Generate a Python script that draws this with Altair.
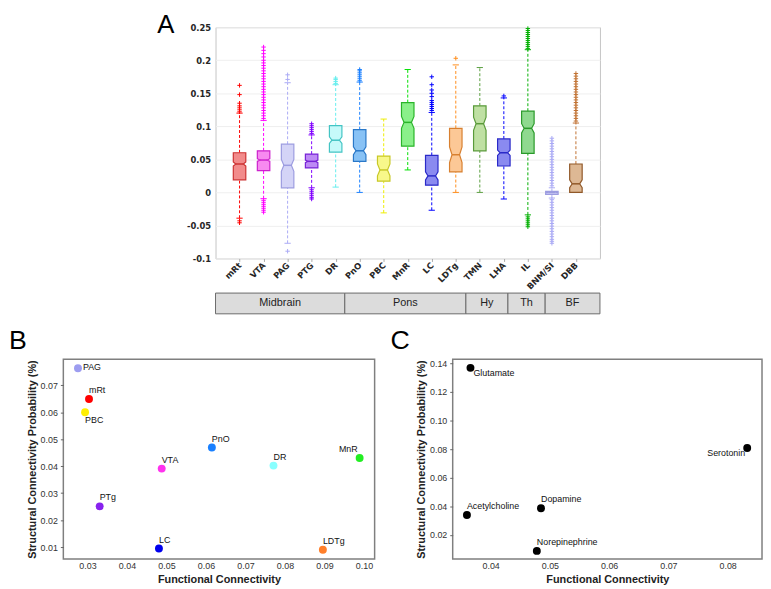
import json
import altair as alt
import pandas as pd

# ---------------- Panel A data ----------------
cats = ["mRt", "VTA", "PAG", "PTG", "DR", "PnO", "PBC", "MnR", "LC", "LDTg",
        "TMN", "LHA", "IL", "BNM/SI", "DBB"]
q1 = [0.019, 0.033, 0.007, 0.037, 0.061, 0.047, 0.017, 0.070, 0.011, 0.031,
      0.063, 0.040, 0.059, -0.003, 0.000]
medians = [0.043, 0.049, 0.041, 0.047, 0.079, 0.063, 0.034, 0.106, 0.025, 0.057,
           0.104, 0.060, 0.097, 0.000, 0.013]
q3 = [0.060, 0.063, 0.073, 0.058, 0.101, 0.095, 0.055, 0.136, 0.056, 0.097,
      0.131, 0.081, 0.123, 0.0015, 0.043]
whisk_lo = [-0.039, -0.0095, -0.077, 0.007, 0.008, 0.000, -0.031, 0.034, -0.027, 0.000,
            0.000, -0.010, -0.034, -0.0085, 0.000]
whisk_hi = [0.120, 0.109, 0.166, 0.087, 0.163, 0.167, 0.111, 0.186, 0.121, 0.193,
            0.189, 0.143, 0.216, 0.007, 0.105]
notch = [0.003, 0.002, 0.009, 0.002, 0.005, 0.006, 0.009, 0.009, 0.006, 0.012,
         0.010, 0.004, 0.007, 0.0005, 0.006]
outliers = {
    "mRt": [0.122, 0.125, 0.128, 0.131, 0.135, 0.148, 0.162, -0.043, -0.046],
    "VTA": [0.112, 0.116, 0.120, 0.124, 0.128, 0.132, 0.136, 0.140, 0.144, 0.148,
            0.152, 0.156, 0.160, 0.164, 0.168, 0.172, 0.176, 0.180, 0.184, 0.188,
            0.192, 0.196, 0.200, 0.205, 0.210, 0.215, 0.220,
            -0.012, -0.015, -0.018, -0.021, -0.024, -0.027, -0.030],
    "PAG": [0.171, 0.178, -0.089],
    "PTG": [0.089, 0.092, 0.095, 0.098, 0.101, 0.104,
            0.004, 0.001, -0.002, -0.005, -0.008, -0.010],
    "DR": [0.165, 0.168, 0.171, 0.173],
    "PnO": [0.169, 0.172, 0.175, 0.178, 0.181, 0.184, 0.186],
    "LC": [0.124, 0.127, 0.130, 0.133, 0.136, 0.139, 0.145, 0.150, 0.155, 0.163, 0.175],
    "LDTg": [0.203],
    "LHA": [0.146],
    "IL": [0.218, 0.221, 0.224, 0.227, 0.230, 0.233, 0.236, 0.239, 0.242, 0.245, 0.248,
           -0.037, -0.040, -0.043, -0.046, -0.049, -0.052],
    "BNM/SI": [0.010, 0.014, 0.018, 0.022, 0.026, 0.030, 0.034, 0.038, 0.042, 0.046,
               0.050, 0.054, 0.058, 0.062, 0.066, 0.070, 0.074, 0.078, 0.082,
               -0.011, -0.015, -0.019, -0.023, -0.027, -0.031, -0.035, -0.039, -0.043,
               -0.047, -0.051, -0.055, -0.059, -0.063, -0.067, -0.071, -0.074, -0.077],
    "DBB": [0.108, 0.112, 0.116, 0.120, 0.124, 0.128, 0.132, 0.136, 0.140, 0.144,
            0.148, 0.152, 0.156, 0.160, 0.164, 0.168, 0.172, 0.176, 0.180],
}
region_names = ["Midbrain", "Pons", "Hy", "Th", "BF"]
region_start = [0.0, 5.38, 10.42, 12.17, 13.72]
region_end = [5.38, 10.42, 12.17, 13.72, 16.0]

# styles for panel A
line_colors = ["#cc3333", "#cc22cc", "#9c9ce0", "#7722d6", "#44c4c4", "#2a78c8",
               "#c8c828", "#2ab42a", "#2a2ac8", "#d88030", "#5a9a3a", "#2a2ac8",
               "#2a9a2a", "#9c9ce0", "#905828"]
fill_colors = ["#f28b8b", "#f78af0", "#d4d4f7", "#bd8af5", "#c6fafa", "#88c2f5",
               "#f8f88a", "#8af08a", "#8a8af0", "#fcc896", "#bfe0a3", "#8a8af0",
               "#8fd98f", "#d0d0f7", "#ddb894"]
whisker_colors = ["#ff0000", "#ff00ff", "#aaaaf5", "#8000ff", "#66eeee", "#1a80ff",
                  "#eeee00", "#00e000", "#0000ff", "#ff8c1a", "#5aa040", "#0000ff",
                  "#00b000", "#aaaaf5", "#c07030"]

# ---------------- Panel B data ----------------
b_names = ["PAG", "mRt", "PBC", "PnO", "VTA", "DR", "MnR", "PTg", "LC", "LDTg"]
b_fc = [0.0276, 0.0304, 0.0294, 0.0615, 0.0488, 0.0771, 0.0989, 0.0331, 0.0481, 0.0896]
b_sc = [0.0763, 0.0649, 0.0600, 0.0469, 0.0391, 0.0402, 0.0430, 0.0251, 0.0095, 0.0090]
b_colors = ["#9d9df0", "#ff0000", "#ffee00", "#1a80ff", "#ff33ee", "#88ffff",
            "#22ee22", "#8822ee", "#0000ee", "#ff7f2a"]
b_label_side = ["right", "above", "below", "above", "above", "above", "aboveleft",
                "above", "above", "above"]

# ---------------- Panel C data ----------------
c_names = ["Glutamate", "Serotonin", "Dopamine", "Acetylcholine", "Norepinephrine"]
c_fc = [0.0366, 0.0833, 0.0485, 0.0360, 0.0478]
c_sc = [0.1368, 0.0808, 0.0386, 0.0339, 0.0088]
c_label_side = ["belowright", "belowleft", "above", "above", "above"]

# ---------------- build panel A ----------------
HW = 0.26        # box half width (x units)
NW = 0.6         # notch narrowing
CAP = 0.13       # cap half width
AW, AH = 389, 234

box_rows, stat_rows, out_rows = [], [], []
for k, c in enumerate(cats):
    i = k + 1
    m, n = medians[k], notch[k]
    for yv, w in [(q1[k], HW), (m - n, HW), (m, HW * NW), (m + n, HW), (q3[k], HW)]:
        box_rows.append({"cat": c, "y": yv, "xl": i - w, "xr": i + w,
                         "fill": fill_colors[k], "line": line_colors[k]})
    stat_rows.append({"cat": c, "i": i, "q1": q1[k], "q3": q3[k], "med": m,
                      "lo": whisk_lo[k], "hi": whisk_hi[k],
                      "cl": i - CAP, "cr": i + CAP,
                      "ml": i - HW * NW, "mr": i + HW * NW,
                      "wc": whisker_colors[k], "line": line_colors[k]})
    for v in outliers.get(c, []):
        out_rows.append({"cat": c, "i": i, "v": v, "wc": whisker_colors[k]})

box_df = pd.DataFrame(box_rows)
stat_df = pd.DataFrame(stat_rows)
out_df = pd.DataFrame(out_rows)

xs = alt.Scale(domain=[0, 16], nice=False, zero=False)
ys = alt.Scale(domain=[-0.1, 0.25], nice=False, zero=False)
label_arr = json.dumps(cats)
x_axis = alt.Axis(values=list(range(1, 16)), tickCount=40,
                  labelExpr=f"{label_arr}[datum.value - 1]",
                  labelAngle=315, labelAlign="right", labelBaseline="middle",
                  labelFont="DejaVu Sans", labelFontWeight="bold", labelFontSize=8.5,
                  labelColor="#262626", labelPadding=2, tickSize=3, tickColor="#aaaaaa",
                  labelOverlap=False, domain=False, grid=False, title=None)
y_axis = alt.Axis(values=[-0.1, -0.05, 0, 0.05, 0.1, 0.15, 0.2, 0.25], tickCount=40,
                  labelExpr="'' + datum.value", labelFont="DejaVu Sans",
                  labelFontWeight="bold", labelFontSize=8.5, labelColor="#262626",
                  labelOverlap=False, grid=True, gridColor="#efefef", domain=False,
                  ticks=False, labelPadding=5, title=None)

whisk_hi_l = alt.Chart(stat_df).mark_rule(strokeDash=[3, 2], strokeWidth=1).encode(
    x=alt.X("i:Q", scale=xs, axis=x_axis), y=alt.Y("q3:Q", scale=ys, axis=y_axis),
    y2="hi:Q", stroke=alt.Stroke("wc:N", scale=None))
whisk_lo_l = alt.Chart(stat_df).mark_rule(strokeDash=[3, 2], strokeWidth=1).encode(
    x=alt.X("i:Q", scale=xs), y=alt.Y("lo:Q", scale=ys), y2="q1:Q",
    stroke=alt.Stroke("wc:N", scale=None))
cap_hi = alt.Chart(stat_df).mark_rule(strokeWidth=1).encode(
    x=alt.X("cl:Q", scale=xs), x2="cr:Q", y=alt.Y("hi:Q", scale=ys),
    stroke=alt.Stroke("wc:N", scale=None))
cap_lo = alt.Chart(stat_df).mark_rule(strokeWidth=1).encode(
    x=alt.X("cl:Q", scale=xs), x2="cr:Q", y=alt.Y("lo:Q", scale=ys),
    stroke=alt.Stroke("wc:N", scale=None))
outl = alt.Chart(out_df).mark_point(shape="M-1,0L1,0M0,-1L0,1", size=20, strokeWidth=1,
                                    filled=False, opacity=1).encode(
    x=alt.X("i:Q", scale=xs), y=alt.Y("v:Q", scale=ys),
    stroke=alt.Stroke("wc:N", scale=None))
boxes = alt.Chart(box_df).mark_area(orient="horizontal", strokeWidth=1.2,
                                    fillOpacity=1).encode(
    y=alt.Y("y:Q", scale=ys), x=alt.X("xl:Q", scale=xs, stack=None), x2="xr:Q",
    fill=alt.Fill("fill:N", scale=None), stroke=alt.Stroke("line:N", scale=None),
    detail="cat:N")
med_l = alt.Chart(stat_df).mark_rule(strokeWidth=1.5).encode(
    x=alt.X("ml:Q", scale=xs), x2="mr:Q", y=alt.Y("med:Q", scale=ys),
    stroke=alt.Stroke("line:N", scale=None))

A = alt.layer(whisk_hi_l, whisk_lo_l, cap_hi, cap_lo, outl, boxes, med_l).properties(
    width=AW, height=AH,
    view=alt.ViewBackground(stroke="#c4c4c4", strokeWidth=1),
    title=alt.TitleParams("A", anchor="start", frame="group", dx=-59, fontSize=26,
                          fontWeight="normal", font="Liberation Sans", color="black",
                          offset=-15))

region_df = pd.DataFrame({"name": region_names, "start": region_start, "end": region_end})
region_df["mid"] = (region_df["start"] + region_df["end"]) / 2
R_base = alt.Chart(region_df)
R = alt.layer(
    R_base.mark_rect(fill="#dcdcdc", stroke="#6a6a6a", strokeWidth=1).encode(
        x=alt.X("start:Q", scale=xs, axis=None), x2="end:Q"),
    R_base.mark_text(font="Liberation Sans", fontSize=11, color="#222222").encode(
        x=alt.X("mid:Q", scale=xs, axis=None), text="name:N"),
).properties(width=AW, height=21, view=alt.ViewBackground(stroke="transparent"))

spacer = alt.Chart(pd.DataFrame({"v": [0]})).mark_rect(opacity=0).encode(
    color=alt.value("white")).properties(
    width=93, height=10, view=alt.ViewBackground(stroke="transparent"))

top_row = alt.hconcat(spacer, alt.vconcat(A, R, spacing=0), spacing=0)

# ---------------- panels B and C ----------------
FONT = "Liberation Sans"


def sc_axis(vals, title, ticks):
    return alt.Axis(values=vals, tickCount=40, format=".2f", labelFont=FONT,
                    labelFontSize=9, labelColor="#333333", ticks=ticks, tickSize=3,
                    tickColor="#666666", labelOverlap=False, domain=False, grid=False,
                    title=title, titleFont=FONT, titleFontSize=11,
                    titleFontWeight="bold", titleColor="#222222", titlePadding=3,
                    labelPadding=3)


SIDES = {
    "right": ("left", "middle", 5, -1),
    "above": ("left", "bottom", 0, -4),
    "below": ("left", "top", 0, 4),
    "aboveleft": ("right", "bottom", -2, -4),
    "belowright": ("left", "top", 3, 1),
    "belowleft": ("right", "top", -2, 1),
}


def scatter(df, xsc, ysc, xvals, yvals, letter, dx, w, h, colored):
    base = alt.Chart(df)
    xenc = alt.X("fc:Q", scale=xsc,
                 axis=sc_axis(xvals, "Functional Connectivity", False))
    yenc = alt.Y("sc:Q", scale=ysc,
                 axis=sc_axis(yvals, "Structural Connectivity Probability (%)", True))
    if colored:
        pts = base.mark_circle(size=64, opacity=1).encode(
            x=xenc, y=yenc, color=alt.Color("col:N", scale=None))
    else:
        pts = base.mark_circle(size=64, opacity=1, color="black").encode(x=xenc, y=yenc)
    layers = [pts]
    for side in df["side"].unique():
        al, bl, ddx, ddy = SIDES[side]
        layers.append(base.mark_text(font=FONT, fontSize=9, color="#111111", align=al,
                                     baseline=bl, dx=ddx, dy=ddy).encode(
            x=alt.X("fc:Q", scale=xsc), y=alt.Y("sc:Q", scale=ysc), text="name:N"
        ).transform_filter(alt.datum.side == side))
    return alt.layer(*layers).properties(
        width=w, height=h,
        view=alt.ViewBackground(stroke="#7f7f7f", strokeWidth=1.5),
        title=alt.TitleParams(letter, anchor="start", frame="group", dx=dx, fontSize=27,
                              fontWeight="normal", font=FONT, color="black", offset=4))


b_df = pd.DataFrame({"name": b_names, "fc": b_fc, "sc": b_sc, "col": b_colors,
                     "side": b_label_side})
c_df = pd.DataFrame({"name": c_names, "fc": c_fc, "sc": c_sc, "side": c_label_side})

B = scatter(b_df, alt.Scale(domain=[0.0239, 0.1027], nice=False, zero=False),
            alt.Scale(domain=[0.00564, 0.0796], nice=False, zero=False),
            [0.03, 0.04, 0.05, 0.06, 0.07, 0.08, 0.09, 0.10],
            [0.01, 0.02, 0.03, 0.04, 0.05, 0.06, 0.07], "B", -55, 315, 202, True)
C = scatter(c_df, alt.Scale(domain=[0.0336, 0.0858], nice=False, zero=False),
            alt.Scale(domain=[0.0032, 0.1428], nice=False, zero=False),
            [0.04, 0.05, 0.06, 0.07, 0.08],
            [0.02, 0.04, 0.06, 0.08, 0.10, 0.12, 0.14], "C", -63, 313, 202, False)

bottom_row = alt.hconcat(B, C, spacing=14)

chart = alt.vconcat(top_row, bottom_row, spacing=12).properties(
    padding=0, background="white")

chart.save("out.html", embed_options={"renderer": "svg", "actions": False})
